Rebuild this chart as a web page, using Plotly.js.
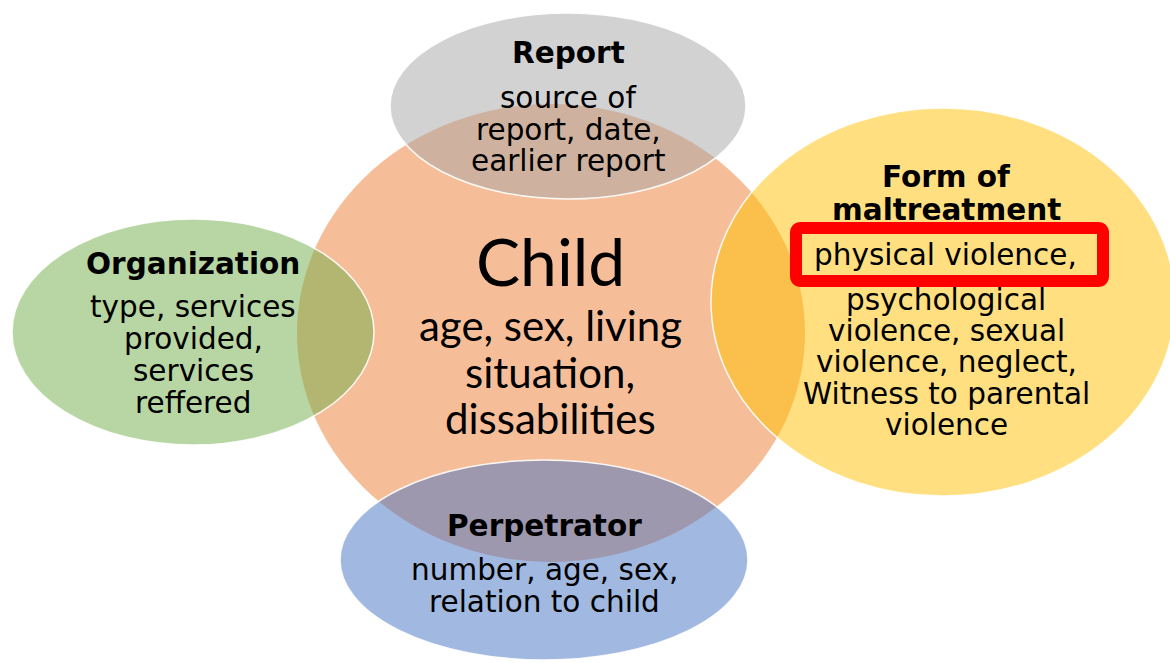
<!DOCTYPE html>
<html>
<head>
<meta charset="utf-8">
<script src="https://cdn.plot.ly/plotly-3.0.1.min.js"></script>
<style>html,body{margin:0;padding:0;background:#fff;}#chart{width:1170px;height:663px;}</style>
</head>
<body>
<div id="chart"></div>
<script>
// ---- data ----
const groups = ["Child", "Report", "Organization", "Form of maltreatment", "Perpetrator"];
const centerX = [551, 568, 193, 943, 544];
const centerY = [333, 106, 332, 302, 560];
const radiusX = [254, 178, 181, 232, 204];
const radiusY = [229, 93, 113, 194, 100];
const fills = ["rgba(237,125,49,0.5)", "rgba(165,165,165,0.5)", "rgba(112,173,71,0.5)", "rgba(255,192,0,0.5)", "rgba(68,114,196,0.5)"];

const titleLines = ["Report", "Organization", "Form of", "maltreatment", "Perpetrator"];
const titleX = [568, 193, 946, 946, 544];
const titleY = [53, 264, 177, 210, 526];

const bodyLines = [
  "source of", "report, date,", "earlier report",
  "type, services", "provided,", "services", "reffered",
  "physical violence,", "psychological", "violence, sexual", "violence, neglect,", "Witness to parental", "violence",
  "number, age, sex,", "relation to child"
];
const bodyX = [568, 568, 568, 193, 193, 193, 193, 945, 946, 946, 946, 946, 946, 544, 544];
const bodyY = [98, 130, 161, 307, 339, 371, 403, 255, 300, 331, 362, 394, 425, 570, 602];

const childTitle = "Child";
const childLines = ["age, sex, living", "situation,", "dissabilities"];
const childY = [260, 325, 372, 418];

// highlight box around "physical violence,"
const boxX = [796, 1103];
const boxY = [228, 281];

// ---- build ----
const shapes = [];
for (let i = 0; i < groups.length; i++) {
  shapes.push({
    type: "circle", xref: "x", yref: "y",
    x0: centerX[i] - radiusX[i], x1: centerX[i] + radiusX[i],
    y0: centerY[i] - radiusY[i], y1: centerY[i] + radiusY[i],
    fillcolor: fills[i],
    line: {color: i === 0 ? "rgba(0,0,0,0)" : "rgba(255,255,255,0.9)", width: i === 0 ? 0 : 1.5},
    layer: "above"
  });
}
const r = 5;
const [bx0, bx1] = boxX, [by0, by1] = boxY;
shapes.push({
  type: "path", xref: "x", yref: "y",
  path: `M${bx0 + r},${by0} L${bx1 - r},${by0} Q${bx1},${by0} ${bx1},${by0 + r} L${bx1},${by1 - r} Q${bx1},${by1} ${bx1 - r},${by1} L${bx0 + r},${by1} Q${bx0},${by1} ${bx0},${by1 - r} L${bx0},${by0 + r} Q${bx0},${by0} ${bx0 + r},${by0} Z`,
  line: {color: "#ff0000", width: 12},
  fillcolor: "rgba(0,0,0,0)",
  layer: "above"
});

const annotations = [];
const vfont = "DejaVu Sans, Verdana, sans-serif";
titleLines.forEach((t, i) => annotations.push({
  x: titleX[i], y: titleY[i], xref: "x", yref: "y", text: "<b>" + t + "</b>", showarrow: false,
  xanchor: "center", yanchor: "middle", font: {family: vfont, size: 29.5, color: "#000"}
}));
bodyLines.forEach((t, i) => annotations.push({
  x: bodyX[i], y: bodyY[i], xref: "x", yref: "y", text: t, showarrow: false,
  xanchor: "center", yanchor: "middle", font: {family: vfont, size: 29.5, color: "#000"}
}));
annotations.push({
  x: 550, y: childY[0], xref: "x", yref: "y", text: childTitle, showarrow: false,
  xanchor: "center", yanchor: "middle", font: {family: "Lato, Carlito, sans-serif", size: 66, color: "#000"}
});
childLines.forEach((t, i) => annotations.push({
  x: 550, y: childY[i + 1], xref: "x", yref: "y", text: t, showarrow: false,
  xanchor: "center", yanchor: "middle", font: {family: "Lato, Carlito, sans-serif", size: 42, color: "#000"}
}));

const layout = {
  width: 1170, height: 663,
  margin: {l: 0, r: 0, t: 0, b: 0, pad: 0},
  paper_bgcolor: "#ffffff", plot_bgcolor: "#ffffff",
  showlegend: false,
  xaxis: {range: [0, 1170], visible: false, fixedrange: true},
  yaxis: {range: [663, 0], visible: false, fixedrange: true},
  shapes: shapes,
  annotations: annotations
};

Plotly.newPlot("chart", [{x: [], y: [], type: "scatter", mode: "markers", hoverinfo: "skip"}], layout, {displayModeBar: false, staticPlot: true});
</script>
</body>
</html>
